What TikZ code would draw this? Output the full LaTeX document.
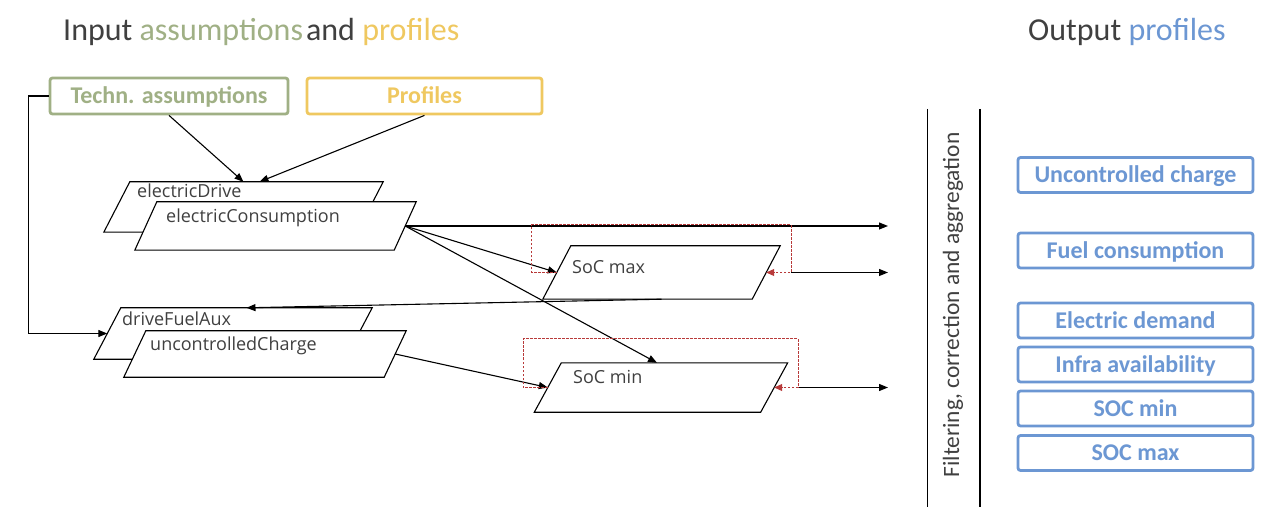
\documentclass[tikz,border=0pt]{standalone}
\usepackage{fontspec}
\setmainfont{Carlito}
\newfontfamily\osans{Open Sans}
\usetikzlibrary{arrows.meta}
\definecolor{tgreen}{HTML}{A0B085}
\definecolor{tgold}{HTML}{EFC860}
\definecolor{tblue}{HTML}{6C97D3}
\definecolor{tgray}{HTML}{404040}
\definecolor{tred}{HTML}{D06060}
\definecolor{tredtip}{HTML}{B83A3A}
\begin{document}
\begin{tikzpicture}[x=1pt,y=-1pt,
  conn/.style={line width=1.1pt,-{Triangle[length=9pt,width=7pt]}},
  plainline/.style={line width=1.1pt},
  redloop/.style={line width=1pt,draw=tred,dash pattern=on 2.5pt off 1.5pt,-{Triangle[length=8pt,width=7pt]},tredtip},
  inbox/.style={draw,line width=2.8pt,rounded corners=2.5pt,minimum height=36pt,inner sep=0pt,text height=15.4pt,text depth=0pt,font=\bfseries\fontsize{24}{26}\selectfont},
  outbox/.style={draw=tblue,text=tblue,line width=2.8pt,rounded corners=2.5pt,minimum width=235pt,minimum height=35pt,inner sep=0pt,text height=15.4pt,text depth=0pt,font=\bfseries\fontsize{24}{26}\selectfont},
  anc/.style={rectangle,inner sep=0pt,draw=none},
  pg/.style={draw=black,fill=white,line width=1.1pt,line join=miter},
  plabel/.style={anchor=base west,inner sep=0pt,text=tgray,font=\osans\fontsize{18}{20}\selectfont},
  title/.style={anchor=base west,inner sep=0pt,font=\fontsize{32}{36}\selectfont}
]
\useasboundingbox[fill=white] (0,0) rectangle (1280,521);

% titles
\node[title] (tin) at (63,40.5) {\textcolor{tgray}{Input} \textcolor{tgreen}{assumptions}\hspace{3pt}\textcolor{tgray}{and} \textcolor{tgold}{profiles}};
\node[title] (tout) at (1028,40.5) {\textcolor{tgray}{Output} \textcolor{tblue}{profiles}};

% input boxes
\node[inbox,draw=tgreen,text=tgreen,minimum width=238pt] (techn) at (169,96) {Techn. assumptions};
\node[inbox,draw=tgold,text=tgold,minimum width=235pt] (prof) at (424.5,96) {Profiles};

% parallelogram anchors
\node[anc,minimum width=253pt,minimum height=50pt] (ed) at (243.5,207) {};
\node[anc,minimum width=259pt,minimum height=48pt] (ec) at (275.5,226) {};
\node[anc,minimum width=251pt,minimum height=51pt] (dfa) at (233,333.5) {};
\node[anc,minimum width=260pt,minimum height=46pt] (uc) at (265,354) {};
\node[anc,minimum width=209pt,minimum height=53pt] (smax) at (661.5,272.5) {};
\node[anc,minimum width=226pt,minimum height=49pt] (smin) at (661,387.5) {};

% parallelograms
\draw[pg] ([xshift=-13pt]ed.south west) -- ([xshift=-13pt]ed.south east) -- ([xshift=13pt]ed.north east) -- ([xshift=13pt]ed.north west) -- cycle;
\node[plabel] (edl) at (137,198) {electricDrive};
\draw[pg] ([xshift=-11pt]ec.south west) -- ([xshift=-11pt]ec.south east) -- ([xshift=11pt]ec.north east) -- ([xshift=11pt]ec.north west) -- cycle;
\node[plabel] (ecl) at (166,223) {electricConsumption};
\draw[pg] ([xshift=-13.5pt]dfa.south west) -- ([xshift=-13.5pt]dfa.south east) -- ([xshift=13.5pt]dfa.north east) -- ([xshift=13.5pt]dfa.north west) -- cycle;
\node[plabel] (dfal) at (122,326) {driveFuelAux};
\draw[pg] ([xshift=-11pt]uc.south west) -- ([xshift=-11pt]uc.south east) -- ([xshift=11pt]uc.north east) -- ([xshift=11pt]uc.north west) -- cycle;
\node[plabel] (ucl) at (150,351) {uncontrolledCharge};
\draw[pg] ([xshift=-14pt]smax.south west) -- ([xshift=-14pt]smax.south east) -- ([xshift=14pt]smax.north east) -- ([xshift=14pt]smax.north west) -- cycle;
\node[plabel] (smaxl) at (572,274) {SoC max};
\draw[pg] ([xshift=-13.5pt]smin.south west) -- ([xshift=-13.5pt]smin.south east) -- ([xshift=13.5pt]smin.north east) -- ([xshift=13.5pt]smin.north west) -- cycle;
\node[plabel] (sminl) at (573,384) {SoC min};

% free ends
\coordinate (o1) at (888,226);
\coordinate (o2) at (888,272.5);
\coordinate (o3) at (888,387.5);
\coordinate (smaxr) at (791,272.5);
\coordinate (sminr) at (798,387.5);

% connectors
\draw[conn] (techn.south) -- (ed.north);
\draw[conn] (prof.south) -- ([xshift=16pt]ed.north);
\draw[conn] (techn.west) -- ++(-20,0) |- (dfa.west);
\draw[conn] (ec.east) -- (o1);
\draw[conn] (ec.east) -- (smax.west);
\draw[conn] (ec.east) -- ([xshift=-4pt]smin.north);
\draw[conn] (smax.south) -- ([xshift=13.5pt]dfa.north);
\draw[conn] (uc.east) -- (smin.west);
\draw[conn] (smaxr) -- (o2);
\draw[conn] (sminr) -- (o3);

% feedback loops
\draw[redloop] (smax.west) -- ++(-25,0) -- ++(0,-47.5) -| (smaxr) -- (smax.east);
\draw[redloop] (smin.west) -- ++(-24.5,0) -- ++(0,-48.5) -| (sminr) -- (smin.east);

% filtering band
\draw[plainline] (927.5,109) -- (927.5,507);
\draw[plainline] (980,109) -- (980,507);
\node[rotate=90,text=tgray,font=\fontsize{23.4}{26}\selectfont,inner sep=0pt] (filt) at (953,305) {Filtering, correction and aggregation};

% output boxes
\node[outbox] (b1) at (1135.5,175) {Uncontrolled charge};
\node[outbox] (b2) at (1135.5,250.5) {Fuel consumption};
\node[outbox] (b3) at (1135.5,320.5) {Electric demand};
\node[outbox] (b4) at (1135.5,364.5) {Infra availability};
\node[outbox] (b5) at (1135.5,408.5) {SOC min};
\node[outbox] (b6) at (1135.5,453) {SOC max};
\end{tikzpicture}
\end{document}
